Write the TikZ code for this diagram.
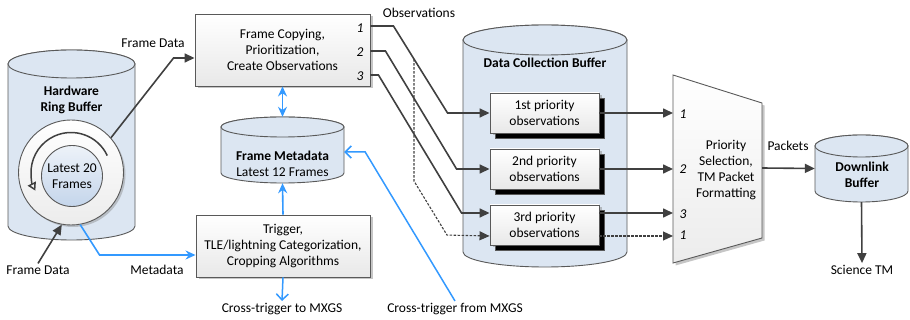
\documentclass[tikz,border=0pt]{standalone}
\usepackage{fontspec}
\setmainfont{Carlito}
\usepackage{tikz}
\usetikzlibrary{positioning,arrows.meta,fit,calc,shadows}
\definecolor{cylfill}{RGB}{220,230,242}
\definecolor{cyldark}{RGB}{196,213,235}
\definecolor{linegray}{RGB}{64,64,64}
\definecolor{boxedge}{RGB}{89,89,89}
\definecolor{flowblue}{RGB}{51,153,255}
% cylinder: centre x, top y, bottom y, x radius, y radius
\newcommand{\drawcyl}[5]{%
  \path[cyl] (#1-#4,#2) -- (#1-#4,#3)
    arc[start angle=180, end angle=360, x radius=#4pt, y radius=#5pt]
    -- (#1+#4,#2)
    arc[start angle=0, end angle=180, x radius=#4pt, y radius=#5pt] -- cycle;
  \draw[cyl] (#1,#2) ellipse[x radius=#4pt, y radius=#5pt]}

\begin{document}
\begin{tikzpicture}[x=1pt, y=-1pt,
  font=\fontsize{13.5pt}{16pt}\selectfont,
  cyl/.style={fill=cylfill, draw=boxedge, line width=0.9pt},
  box/.style={draw=boxedge, line width=0.9pt, align=center, inner sep=2pt,
              top color=white, bottom color=gray!18,
              drop shadow={shadow xshift=2.5pt, shadow yshift=-2.5pt, opacity=.45}},
  obsbox/.style={box, minimum width=109pt, minimum height=40pt,
              copy shadow={shadow xshift=5pt, shadow yshift=-5pt}},
  port/.style={font=\fontsize{13.5pt}{16pt}\selectfont\itshape, inner sep=1pt},
  lbl/.style={inner sep=2pt},
  holder/.style={inner sep=0pt},
  arr/.style={draw=linegray, line width=1.6pt, -{Triangle[length=10pt, width=9pt]}},
  darr/.style={arr, line width=1.1pt, dash pattern=on 2.5pt off 1.5pt},
  barr/.style={draw=flowblue, line width=1.6pt, -{Stealth[length=10pt, width=9pt]}},
  vbarr/.style={draw=flowblue, line width=1.5pt, -{Straight Barb[length=6pt, width=12pt]}}]
\useasboundingbox (0,0) rectangle (910,320);

% hardware ring buffer
\drawcyl{71.5}{64}{226}{63.5}{14};
\node[holder, fit={(8,50)(135,240)}] (hrb) {};
\node[font=\fontsize{13.5pt}{16pt}\selectfont\bfseries, align=center] at (71.5,100) {Hardware\\Ring Buffer};
\node[circle, draw=boxedge, line width=0.9pt, minimum size=105pt, inner sep=0pt,
      top color=white, bottom color=gray!15,
      drop shadow={shadow xshift=2pt, shadow yshift=-2pt, opacity=.4}] (ring) at (71,172.5) {};
\node[circle, draw=boxedge, line width=0.9pt, minimum size=61pt, inner sep=0pt, align=center,
      top color=cylfill!50!white, bottom color=cyldark] (lat) at (72,176) {Latest 20\\Frames};
\draw[linegray, line width=1.5pt, -{Triangle[open, length=8pt, width=9pt]}]
  (ring.center) ++(25:40pt) arc[start angle=25, end angle=207, radius=40pt];

% frame copying and trigger
\node[box, minimum width=175pt, minimum height=72pt] (copy) at (282.5,50)
  {Frame Copying,\\Prioritization,\\Create Observations};
\node[port] at (360,28) {1};
\node[port] at (360,52) {2};
\node[port] at (360,76) {3};
\node[box, minimum width=174pt, minimum height=62pt] (trig) at (283,246)
  {Trigger,\\TLE/lightning Categorization,\\Cropping Algorithms};

% frame metadata
\drawcyl{282.5}{127}{173}{61.5}{10};
\node[holder, fit={(221,117)(344,183)}] (meta) {};
\node[align=center] at (282.5,164) {\textbf{Frame Metadata}\\Latest 12 Frames};

% data collection buffer
\drawcyl{545}{40}{252}{82}{15};
\node[holder, fit={(463,25)(627,267)}] (dcb) {};
\node[font=\fontsize{13.5pt}{16pt}\selectfont\bfseries] at (545,63) {Data Collection Buffer};
\node[obsbox] (p1) at (544.5,113) {1st priority\\observations};
\node[obsbox] (p2) at (544.5,169) {2nd priority\\observations};
\node[obsbox] (p3) at (544.5,225) {3rd priority\\observations};

% priority selection
\draw[draw=boxedge, line width=0.9pt, top color=white, bottom color=gray!15,
      drop shadow={shadow xshift=2.5pt, shadow yshift=-2.5pt, opacity=.45}]
  (673,75) -- (762,103) -- (762,238) -- (673,263) -- cycle;
\coordinate (muxL) at (673,170);
\coordinate (muxR) at (762,168);
\node[align=center] (sel) at (726,170) {Priority\\Selection,\\TM Packet\\Formatting};
\node[port] at (683,114) {1};
\node[port] at (683,169) {2};
\node[port] at (683,214) {3};
\node[port] at (683,235) {1};

% downlink buffer
\drawcyl{861.5}{146}{191}{46.5}{11};
\node[holder, fit={(815,135)(908,202)}] (dlb) {};
\node[font=\fontsize{13.5pt}{16pt}\selectfont\bfseries, align=center] at (862,174.5) {Downlink\\Buffer};

% labels
\node[lbl] (fdin) at (38,270) {Frame Data};
\node[lbl] (fdout) at (153,43) {Frame Data};
\node[lbl] (mdl) at (157,270) {Metadata};
\node[lbl] (obsl) at (419,13) {Observations};
\node[lbl] (xto) at (282,309) {Cross-trigger to MXGS};
\node[lbl] (xfrom) at (455,309) {Cross-trigger from MXGS};
\node[lbl] (pkt) at (788,146) {Packets};
\node[lbl] (sci) at (862,270) {Science TM};

% frame data
\draw[arr] (fdin.north) -- (ring.-100);
\draw[arr] (ring.41) -- ($(copy.west)+(-21,8)$) -- ($(copy.west)+(0,8)$);

% observations
\draw[arr] ($(copy.east)+(0,-24)$) -- ++(23,0) coordinate (b1)
  -- ($(p1.west)+(-42,0)$) coordinate (c1) -- (p1.west);
\draw[arr] ($(copy.east)+(0,1)$) -- ++(15,0) -- ($(p2.west)+(-33,0)$) -- (p2.west);
\draw[arr] ($(copy.east)+(0,25)$) -- ++(8,0) -- ($(p3.west)+(-28,-12)$) -- ($(p3.west)+(0,-12)$);
\draw[darr] ($(b1)!0.38!(c1)$) coordinate (d0) -- ++(0,122) -- ++(33,54) -- ($(p3.west)+(0,11)$);

\draw[arr] (p1.east) -- (p1.east -| muxL);
\draw[arr] (p2.east) -- (p2.east -| muxL);
\draw[arr] ($(p3.east)+(0,-12)$) -- ($(p3.east -| muxL)+(0,-12)$);
\draw[darr] ($(p3.east)+(0,11)$) -- ($(p3.east -| muxL)+(0,11)$);

% packets
\draw[arr] (muxR) -- (dlb.west);
\draw[arr] (dlb.south) -- (sci.north);

% metadata flow
\draw[barr] (ring.-80) -- ($(trig.west)+(-96,9)$) -- ($(trig.west)+(0,9)$);
\draw[barr, {Stealth[length=10pt, width=9pt]}-{Stealth[length=10pt, width=9pt]}] (copy.south) -- (meta.north);
\draw[barr] (trig.north) -- (meta.south);
\draw[vbarr] (trig.south) -- (xto.north);
\draw[vbarr] (xfrom.north) -- ($(meta.east)+(21,2)$) -- ($(meta.east)+(0,2)$);
\end{tikzpicture}
\end{document}
